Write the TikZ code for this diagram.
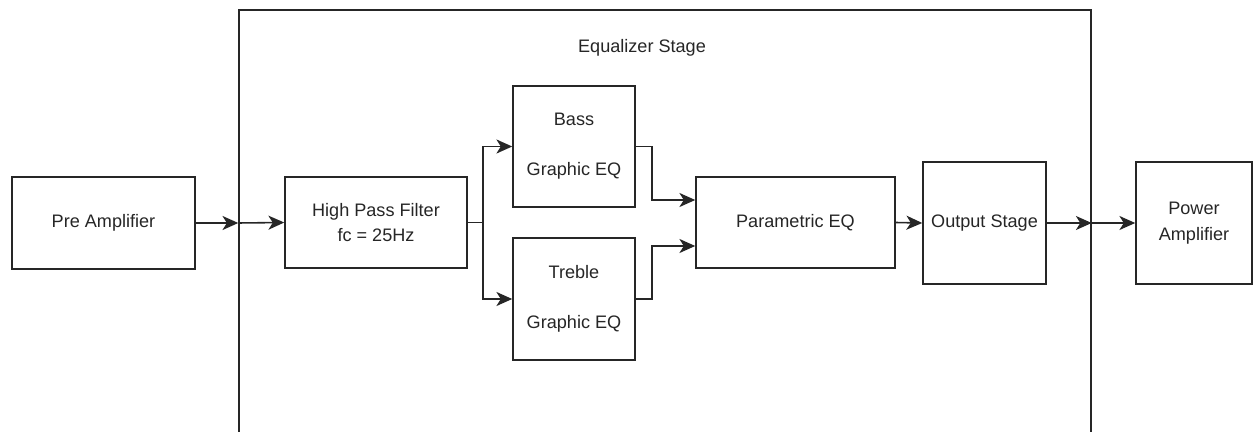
\documentclass[tikz,border=0pt]{standalone}
\usepackage{fontspec}
\setmainfont{Liberation Sans}
\usetikzlibrary{arrows.meta}

\tikzset{
	txt/.style={text=black!85, align=center, inner sep=0pt, font=\fontsize{10.3}{14.5}\selectfont},
	block/.style={txt, draw=black!85, line width=0.9pt},
	wire/.style={draw=black!85, line width=0.9pt, -{Stealth[length=9pt,width=8pt,inset=2.5pt]}}
}

\begin{document}
\begin{tikzpicture}[x=0.02cm, y=-0.02cm]
		%%%%% START %%%%%
		
		\clip (0, 0) rectangle (1254, 432);
		
		% equalizer stage frame, runs past the bottom edge
		\node[block, minimum width=17.04cm, minimum height=8.8cm] (eqstage) at (665, 230) {};
		\node[txt] (eqtitle) at (642, 48) {Equalizer Stage};
		
		\node[block, minimum width=3.66cm, minimum height=1.84cm] (pre) at (103.5, 223) {Pre Amplifier};
		\node[block, minimum width=3.64cm, minimum height=1.82cm] (hpf) at (376, 222.5) {High Pass Filter\\fc = 25Hz};
		
		\node[block, minimum width=2.44cm, minimum height=2.42cm] (bass) at (574, 146.5) {Bass\\[14pt]Graphic EQ};
		\node[block, minimum width=2.44cm, minimum height=2.44cm] (treble) at (574, 299) {Treble\\[14pt]Graphic EQ};
		
		\node[block, minimum width=3.98cm, minimum height=1.82cm] (peq) at (795.5, 222.5) {Parametric EQ};
		\node[block, minimum width=2.46cm, minimum height=2.44cm] (out) at (984.5, 223) {Output Stage};
		\node[block, minimum width=2.32cm, minimum height=2.44cm] (power) at (1194, 223) {Power\\Amplifier};
		
		% into and out of the stage
		\draw[wire] (pre.east) -- (pre.east -| eqstage.west);
		\draw[wire] (pre.east -| eqstage.west) -- (hpf.west);
		
		% split to the two graphic eqs
		\draw[wire] (hpf.east) -- ++(15, 0) |- (bass.west);
		\draw[wire] (hpf.east) -- ++(15, 0) |- (treble.west);
		
		% merge into parametric eq
		\draw[wire] (bass.east) -- ++(16, 0) |- ([yshift=0.45cm]peq.west);
		\draw[wire] (treble.east) -- ++(16, 0) |- ([yshift=-0.47cm]peq.west);
		
		\draw[wire] (peq.east) -- (out.west);
		\draw[wire] (out.east) -- (out.east -| eqstage.east);
		\draw[wire] (out.east -| eqstage.east) -- (power.west);
		
		%%%%% END %%%%%
	\end{tikzpicture}
\end{document}
